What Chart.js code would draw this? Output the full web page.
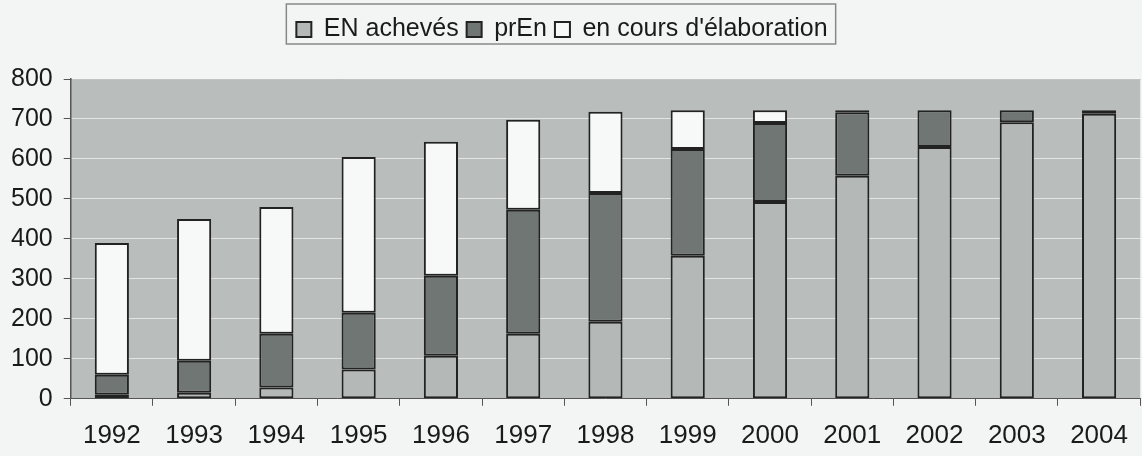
<!DOCTYPE html>
<html>
<head>
<meta charset="utf-8">
<script src="https://cdn.jsdelivr.net/npm/chart.js@4/dist/chart.umd.min.js"></script>
<style>
  body { margin: 0; background: #f3f5f5; }
  #wrap { width: 1142px; height: 456px; }
</style>
</head>
<body>
<div id="wrap"><canvas id="chart"></canvas></div>
<script>
// values
var years = ['1992', '1993', '1994', '1995', '1996', '1997', '1998', '1999', '2000', '2001', '2002', '2003', '2004'];
var enAcheves = [10, 15, 28, 73, 108, 163, 193, 358, 492, 558, 630, 692, 713];
var prEn = [50, 80, 135, 142, 200, 310, 322, 267, 198, 159, 92, 30, 9];
var enCours = [330, 355, 317, 390, 335, 225, 203, 97, 32, 5, 0, 0, 0];
var yTicks = [0, 100, 200, 300, 400, 500, 600, 700, 800];

// legend sits a bit left of centre in the original, text low in its frame
var legendShiftX = -13, legendShiftY = 5;

// grey plot background + top border
var plotBg = {
    id: 'plotBg',
    beforeDraw: function (chart) {
        var a = chart.chartArea, ctx = chart.ctx;
        ctx.save();
        ctx.fillStyle = '#b9bdbc';
        ctx.fillRect(a.left, a.top, a.right - a.left, a.bottom - a.top);
        ctx.strokeStyle = '#666';
        ctx.lineWidth = 1;
        ctx.beginPath();
        ctx.moveTo(a.left, a.top + 0.5);
        ctx.lineTo(a.right, a.top + 0.5);
        ctx.stroke();
        ctx.restore();
    }
};

// taller legend block so the plot starts lower, and nudge its items
var legendTweak = {
    id: 'legendTweak',
    beforeInit: function (chart) {
        var lg = chart.legend;
        var fit = lg.fit;
        lg.fit = function () {
            fit.bind(lg)();
            this.height = 75;
        };
        var draw = lg.draw;
        lg.draw = function () {
            var ctx = chart.ctx;
            ctx.save();
            ctx.translate(legendShiftX, legendShiftY);
            draw.bind(lg)();
            ctx.restore();
        };
    }
};

// frame around the legend items
var legendBox = {
    id: 'legendBox',
    afterDraw: function (chart) {
        var boxes = chart.legend.legendHitBoxes;
        if (!boxes || !boxes.length) return;
        var l = Math.min.apply(null, boxes.map(b => b.left));
        var r = Math.max.apply(null, boxes.map(b => b.left + b.width));
        var t = Math.min.apply(null, boxes.map(b => b.top));
        var btm = Math.max.apply(null, boxes.map(b => b.top + b.height));
        var ctx = chart.ctx;
        ctx.save();
        ctx.strokeStyle = '#888';
        ctx.lineWidth = 1.5;
        ctx.strokeRect(l - 10 + legendShiftX, t - 8, r - l + 18, btm - t + 15);
        ctx.restore();
    }
};

var common = { borderColor: '#222', borderWidth: 2, borderSkipped: false, barPercentage: 0.5, categoryPercentage: 0.83 };

new Chart(document.getElementById('chart'), {
    type: 'bar',
    data: {
        labels: years,
        datasets: [
            Object.assign({ label: 'EN achevés', data: enAcheves, backgroundColor: '#b4b8b7' }, common),
            Object.assign({ label: 'prEn', data: prEn, backgroundColor: '#6f7674' }, common),
            Object.assign({ label: "en cours d'élaboration", data: enCours, backgroundColor: '#f7f9f9' }, common)
        ]
    },
    options: {
        responsive: true,
        maintainAspectRatio: false,
        animation: false,
        layout: { padding: { left: 0, right: -8, top: 4, bottom: -9 } },
        plugins: {
            tooltip: { enabled: false },
            legend: {
                position: 'top',
                labels: {
                    font: { family: 'Liberation Sans', size: 25 },
                    color: '#1a1a1a',
                    boxWidth: 15,
                    boxHeight: 15,
                    padding: 8
                }
            }
        },
        scales: {
            x: {
                stacked: true,
                grid: { drawOnChartArea: false, tickLength: 7, tickColor: '#555' },
                border: { color: '#555', width: 1 },
                ticks: { font: { family: 'Liberation Sans', size: 26 }, color: '#1a1a1a', padding: 14, maxRotation: 0 }
            },
            y: {
                stacked: true,
                min: 0,
                max: 800,
                afterBuildTicks: function (axis) { axis.ticks = yTicks.map(v => ({ value: v })); },
                grid: { color: 'rgba(255,255,255,0.6)', tickColor: '#555', tickLength: 7 },
                border: { color: '#555', width: 1.5 },
                ticks: { font: { family: 'Liberation Sans', size: 25 }, color: '#1a1a1a', padding: 11 }
            }
        }
    },
    plugins: [plotBg, legendTweak, legendBox]
});
</script>
</body>
</html>
